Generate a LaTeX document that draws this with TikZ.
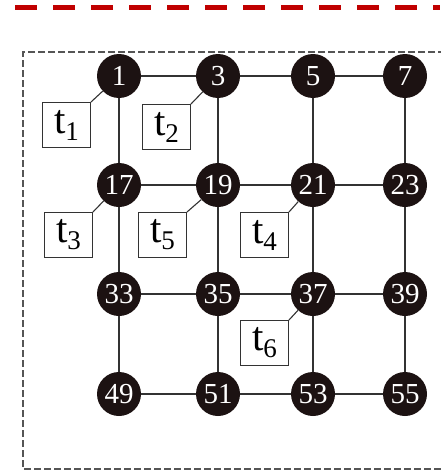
\documentclass[tikz,border=0pt]{standalone}
\usepackage{fontspec}
\setmainfont{Liberation Serif}
\begin{document}
\begin{tikzpicture}[x=1pt,y=-1pt,
  vertex/.style={circle,fill=nodefill,draw=none,minimum size=44pt,inner sep=0pt,
    text=white,font=\fontsize{29}{29}\selectfont},
  tbox/.style={draw=linegray,line width=1pt,fill=white,minimum width=48pt,minimum height=45pt,inner sep=0pt},
  link/.style={draw=linegray,line width=1.4pt},
  tag/.style={draw=linegray,line width=1.1pt}]
\definecolor{nodefill}{HTML}{1C1212}
\definecolor{linegray}{HTML}{333333}
\definecolor{framegray}{HTML}{555555}
\definecolor{topred}{HTML}{C00000}
\newcommand{\tlab}[1]{{\fontsize{41}{41}\selectfont t\raisebox{-0.17em}{\fontsize{27}{27}\selectfont #1}}}

\useasboundingbox (0,0) rectangle (440,471);

% red dashed rule along the top
\draw[topred,line width=5pt,dash pattern=on 22pt off 16pt] (15,7.5) -- (440,7.5);
% dashed frame
\draw[framegray,line width=1.2pt,dash pattern=on 7pt off 3pt] (455,52) -- (23,52) -- (23,469) -- (455,469);

% grid of vertices
\foreach \lab/\x/\y in {1/119/76, 3/218/76, 5/313/76, 7/405/76,
                        17/119/185, 19/218/185, 21/313/185, 23/405/185,
                        33/119/294, 35/218/294, 37/313/294, 39/405/294,
                        49/119/394, 51/218/394, 53/313/394, 55/405/394}
  \node[vertex] (n\lab) at (\x,\y) {\lab};

% grid edges
\foreach \a/\b in {1/3,3/5,5/7,17/19,19/21,21/23,33/35,35/37,37/39,49/51,51/53,53/55,
                   1/17,17/33,33/49,3/19,19/35,35/51,5/21,21/37,37/53,7/23,23/39,39/55}
  \path[link] (n\a) -- (n\b);

% task boxes
\node[tbox] (t1) at (66.5,125) {\tlab{1}};
\node[tbox] (t2) at (166.5,127) {\tlab{2}};
\node[tbox] (t3) at (68.5,235) {\tlab{3}};
\node[tbox] (t5) at (162.5,235) {\tlab{5}};
\node[tbox] (t4) at (264.5,235) {\tlab{4}};
\node[tbox] (t6) at (264.5,343) {\tlab{6}};

% task-to-vertex tags
\path[tag] (t1.north east) -- (n1);
\path[tag] (t2.north east) -- (n3);
\path[tag] (t3.north east) -- (n17);
\path[tag] (t5.north east) -- (n19);
\path[tag] (t4.north east) -- (n21);
\path[tag] (t6.north east) -- (n37);
\end{tikzpicture}
\end{document}
